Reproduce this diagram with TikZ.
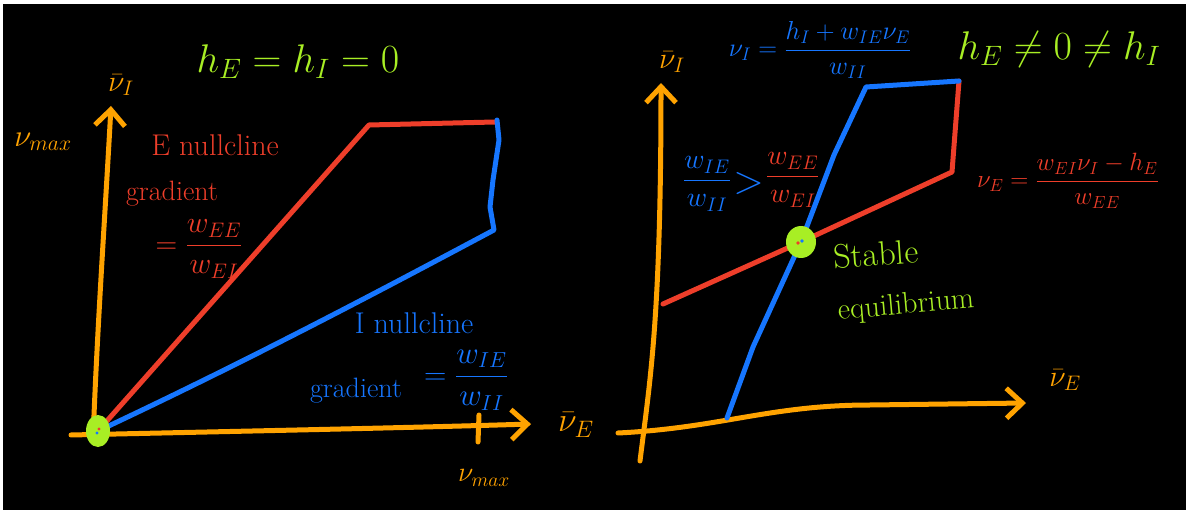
\documentclass[tikz,border=0pt]{standalone}
\usepackage{fix-cm}
\usepackage{amsmath}
\usepackage{fontspec}
\usetikzlibrary{arrows.meta,positioning,calc,shapes.geometric}

\definecolor{axisorange}{RGB}{255,163,0}
\definecolor{nullred}{RGB}{238,62,42}
\definecolor{nullblue}{RGB}{22,118,255}
\definecolor{eqgreen}{RGB}{168,238,36}
\newcommand{\fsz}[1]{\fontsize{#1}{#1}\selectfont}

\begin{document}
\begin{tikzpicture}[x=1pt, y=-1pt,
        axis/.style={draw=axisorange, line width=5pt, line cap=round, line join=round, -{Straight Barb[length=16pt, width=30pt]}},
        tickmark/.style={draw=axisorange, line width=5pt, line cap=round},
        ecline/.style={draw=nullred, line width=5pt, line cap=round, line join=round},
        icline/.style={draw=nullblue, line width=5pt, line cap=round, line join=round},
        eqdot/.style={ellipse, fill=eqgreen, inner sep=0pt},
        orangetxt/.style={text=axisorange, font=\fsz{30}, inner sep=0pt},
        redtxt/.style={text=nullred, font=\fsz{28}, inner sep=0pt},
        bluetxt/.style={text=nullblue, font=\fsz{28}, inner sep=0pt},
        greentxt/.style={text=eqgreen, font=\fsz{30}, inner sep=0pt}]

        \fill[white] (0,0) rectangle (1186,510);
        \fill[black] (3,4) rectangle (1186,510);

        % left panel, h_E = h_I = 0
        \coordinate (oL) at (98,431);
        \coordinate (eLk) at (369,125);
        \coordinate (eLend) at (495,122);
        \coordinate (iLk) at (494,230);
        \coordinate (iLend) at (497,120);

        \draw[axis] (71,435) .. controls (250,431) and (400,428) .. (531,424);
        \draw[axis] (93,441) .. controls (97,330) and (106,200) .. (111,106);
        \draw[tickmark] (479,415) -- (478,442);

        \draw[ecline] (oL) -- (eLk) -- (eLend);
        \draw[icline] (oL) .. controls (260,355) and (400,280) .. (iLk) -- (490,207) -- (493,180) -- (499,140) -- (iLend);

        \node[eqdot, minimum width=24pt, minimum height=32pt] (eqL) at (oL) {};
        \fill[nullred] ($(oL)+(1,-2)$) circle (1.6pt);
        \fill[nullblue] ($(oL)+(-1,2)$) circle (1.6pt);

        \node[orangetxt, font=\fsz{34}] (vEL) at (576,425) {$\bar{\nu}_E$};
        \node[orangetxt] (vIL) at (121,85) {$\bar{\nu}_I$};
        \node[orangetxt, font=\fsz{31}] (vmaxL) at (43,142) {$\nu_{max}$};
        \node[orangetxt, font=\fsz{28}] (vmaxB) at (484,478) {$\nu_{max}$};
        \node[greentxt, font=\fsz{40}] (hzero) at (298,62) {$h_E = h_I = 0$};

        \node[redtxt, font=\fsz{30}] (enull) at (215,145) {E nullcline};
        \node[redtxt] (egrad) at (172,194) {gradient};
        \node[redtxt, font=\fsz{30}] (efrac) at (199,249) {$=\dfrac{w_{EE}}{w_{EI}}$};

        \node[bluetxt, font=\fsz{30}] (inull) at (414,323) {I nullcline};
        \node[bluetxt] (igrad) at (356,391) {gradient};
        \node[bluetxt, font=\fsz{31}] (ifrac) at (466,380) {$=\dfrac{w_{IE}}{w_{II}}$};

        % right panel, h_E, h_I nonzero
        \coordinate (eqR) at (801,242);
        \coordinate (iR0) at (727,418);
        \coordinate (iRk) at (866,87);
        \coordinate (cornR) at (959,81);
        \coordinate (eR0) at (663,304);
        \coordinate (eRk) at (952,172);

        \draw[axis] (640,461) .. controls (650,380) and (661,320) .. (661,83);
        \draw[axis] (618,433) .. controls (720,428) and (770,405) .. (870,405) -- (1026,403);

        \draw[ecline] (eR0) -- (eqR) -- (eRk) -- (cornR);
        \draw[icline] (iR0) -- (753,347) -- (eqR) -- (834,155) -- (iRk) -- (cornR);

        \node[eqdot, minimum width=30pt, minimum height=32pt] (eqRdot) at (eqR) {};
        \fill[nullred] ($(eqR)+(-3,1)$) circle (1.8pt);
        \fill[nullblue] ($(eqR)+(1,-1)$) circle (1.8pt);

        \node[orangetxt] (vIR) at (672,62) {$\bar{\nu}_I$};
        \node[orangetxt] (vER) at (1065,380) {$\bar{\nu}_E$};

        \node[bluetxt, font=\fsz{26}] (iform) at (820,50) {$\nu_I = \dfrac{h_I + w_{IE}\nu_E}{w_{II}}$};
        \node[greentxt, font=\fsz{40}] (hnz) at (1059,50) {$h_E \neq 0 \neq h_I$};
        \node[redtxt, font=\fsz{25}] (eform) at (1068,181) {$\nu_E = \dfrac{w_{EI}\nu_I - h_E}{w_{EE}}$};

        \node[bluetxt] (ifracR) at (707,184) {$\dfrac{w_{IE}}{w_{II}}$};
        \node[bluetxt, font=\fsz{40}, right=2pt of ifracR] (gtR) {$>$};
        \node[redtxt, right=2pt of gtR, yshift=4pt] (efracR) {$\dfrac{w_{EE}}{w_{EI}}$};

        \node[greentxt, font=\fsz{34}, rotate=4] (stab) at (876,254) {Stable};
        \node[greentxt, rotate=5] (equil) at (906,306) {equilibrium};

    \end{tikzpicture}
\end{document}
